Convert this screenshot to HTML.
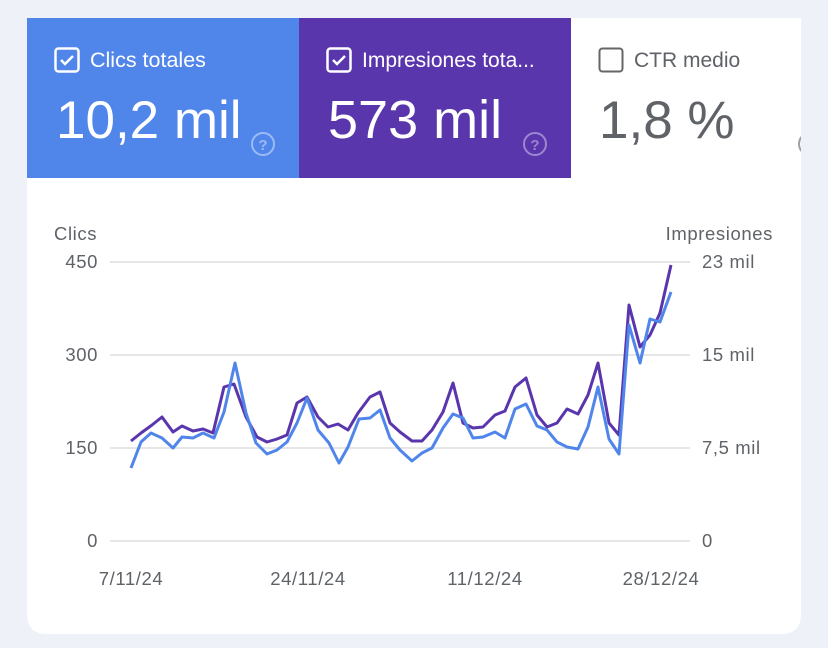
<!DOCTYPE html>
<html><head><meta charset="utf-8"><style>
html,body{margin:0;padding:0;background:#eef2f8;}
svg{display:block;font-family:"Liberation Sans",Roboto,sans-serif;}
</style></head><body>
<svg width="828" height="648" viewBox="0 0 828 648">
<defs><clipPath id="c"><rect x="0" y="0" width="801" height="648"/></clipPath></defs>
<rect width="828" height="648" fill="#eef2f8"/>
<path d="M27 18 H801 V614 Q801 634 781 634 H47 Q27 634 27 614 Z" fill="#fff"/>
<rect x="27" y="18" width="272" height="160" fill="#5085ea"/>
<rect x="299" y="18" width="272" height="160" fill="#5a36ad"/>
<!-- tile 1 -->
<rect x="55.5" y="48.5" width="23" height="23" rx="3" fill="none" stroke="#fff" stroke-width="2.5"/>
<path d="M61 60 l4 4 l8 -8" fill="none" stroke="#fff" stroke-width="2.5"/>
<text x="90" y="67" font-size="21.5" fill="#fff">Clics totales</text>
<text x="56" y="138" font-size="53" fill="#fff">10,2 mil</text>
<circle cx="263" cy="144" r="11" fill="none" stroke="#9dbbf4" stroke-width="2"/>
<text x="263" y="150" font-size="15" fill="#9dbbf4" text-anchor="middle" font-weight="bold">?</text>
<!-- tile 2 -->
<rect x="327.5" y="48.5" width="23" height="23" rx="3" fill="none" stroke="#fff" stroke-width="2.5"/>
<path d="M333 60 l4 4 l8 -8" fill="none" stroke="#fff" stroke-width="2.5"/>
<text x="362" y="67" font-size="21" fill="#fff">Impresiones tota...</text>
<text x="328" y="138" font-size="54" fill="#fff">573 mil</text>
<circle cx="535" cy="144" r="11" fill="none" stroke="#9d87cf" stroke-width="2"/>
<text x="535" y="150" font-size="15" fill="#9d87cf" text-anchor="middle" font-weight="bold">?</text>
<!-- tile 3 -->
<rect x="599.5" y="48.5" width="23" height="23" rx="3" fill="none" stroke="#666" stroke-width="2"/>
<text x="634" y="67" font-size="21" fill="#5f6368">CTR medio</text>
<text x="599" y="138" font-size="53" fill="#5f6368">1,8 %</text>
<circle cx="810" cy="144" r="11" fill="none" stroke="#9aa0a6" stroke-width="2" clip-path="url(#c)"/>
<!-- chart -->
<g stroke="#e6e6e6" stroke-width="2">
<line x1="110" y1="262" x2="690" y2="262"/>
<line x1="110" y1="355" x2="690" y2="355"/>
<line x1="110" y1="448" x2="690" y2="448"/>
<line x1="110" y1="541" x2="690" y2="541"/>
</g>
<g font-size="18.5" fill="#5f6368" letter-spacing="0.6">
<text x="54" y="240">Clics</text>
<text x="773" y="240" text-anchor="end">Impresiones</text>
<g text-anchor="end">
<text x="98" y="268">450</text><text x="98" y="361">300</text><text x="98" y="454">150</text><text x="98" y="547">0</text>
</g>
<text x="702" y="268">23 mil</text><text x="702" y="361">15 mil</text><text x="702" y="454">7,5 mil</text><text x="702" y="547">0</text>
<g text-anchor="middle">
<text x="131" y="585">7/11/24</text><text x="308" y="585">24/11/24</text><text x="485" y="585">11/12/24</text><text x="661" y="585">28/12/24</text>
</g>
</g>
<polyline fill="none" stroke="#5a36ad" stroke-width="3" stroke-linejoin="round" points="131,441 141,433 152,425 162,417 173,432 182,426 193,431 203,429 213,433 224,387 234,384 246,417 257,437 267,442 277,439 287,435 297,403 307,397 318,417 328,427 338,424 348,430 358,413 370,397 380,392 390,423 400,432 412,441 422,441 432,430 443,412 453,383 463,423 473,428 483,427 495,415 505,411 515,387 526,378 537,415 547,427 557,423 567,409 578,414 588,395 598,363 609,423 619,435 629,305 640,347 650,335 660,313 671,265"/>
<polyline fill="none" stroke="#5085ea" stroke-width="3" stroke-linejoin="round" points="131,468 141,442 151,433 162,438 173,448 182,437 193,438 203,433 214,438 224,412 235,363 246,413 256,443 267,454 277,450 287,442 297,423 307,398 318,430 329,443 339,463 348,447 359,419 370,418 380,410 390,438 400,450 412,461 422,453 432,448 443,428 453,414 463,418 473,438 483,437 495,432 505,438 515,409 526,404 537,426 547,430 557,442 567,447 578,449 588,427 598,387 609,439 619,454 629,325 640,363 650,319 660,322 671,292"/>
</svg>
</body></html>
